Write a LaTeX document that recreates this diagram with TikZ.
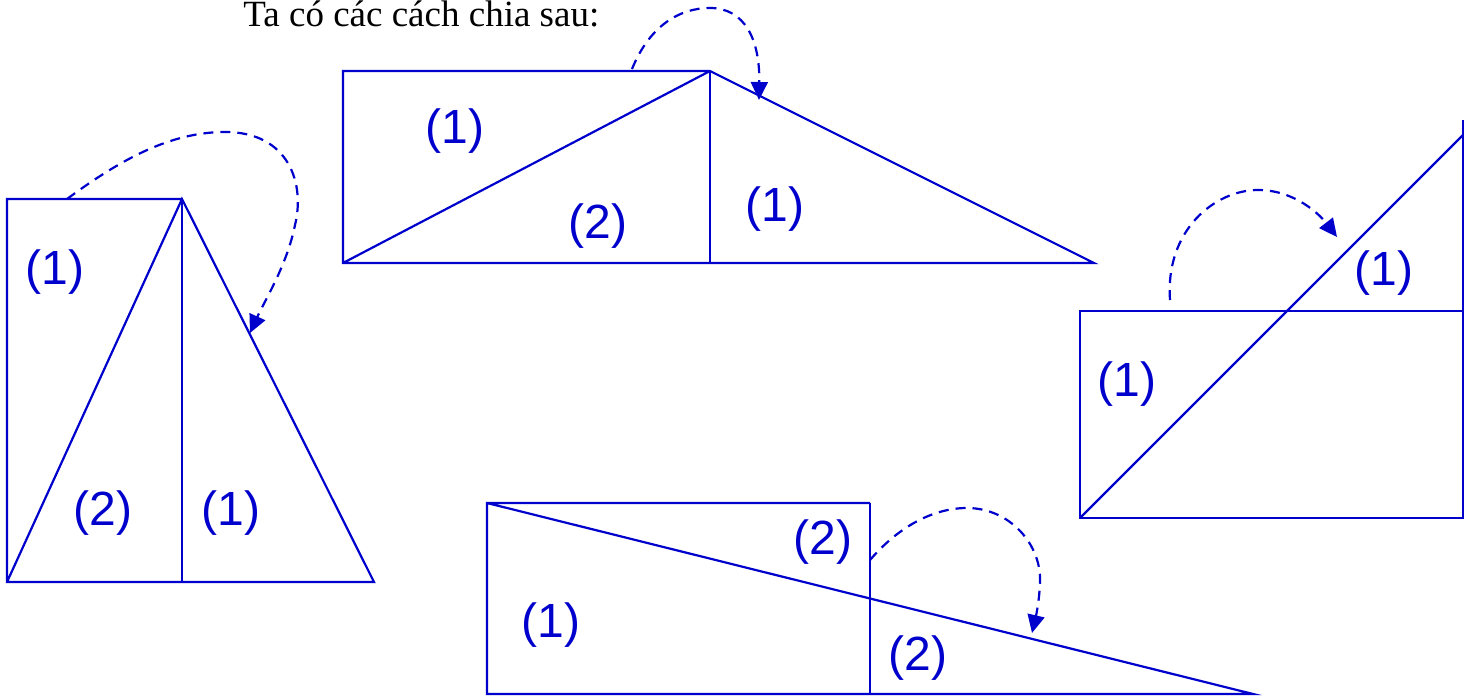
\documentclass[tikz,border=0pt]{standalone}
\usepackage{fontspec}
\setmainfont{Liberation Serif}
\newfontfamily\labfont{Liberation Sans}
\usetikzlibrary{arrows.meta}
\definecolor{figblue}{RGB}{0,0,205}
\begin{document}
\begin{tikzpicture}[x=0.5pt,y=-0.5pt,
  fig/.style={draw=figblue,line width=1.1pt,line join=miter},
  lab/.style={text=figblue,inner sep=0pt,font=\labfont\fontsize{24}{28}\selectfont},
  move/.style={draw=figblue,line width=1.1pt,dash pattern=on 5pt off 3.5pt,-{Triangle[length=9pt,width=8.5pt]}}]
\useasboundingbox (0,0) rectangle (1470,700);
\node[anchor=base west,inner sep=0pt,font=\fontsize{18.5}{22}\selectfont] (title) at (243,27) {Ta có các cách chia sau:};
% shape 1
\draw[fig] (182,199) -- (7,199) -- (7,582) -- (374,582) -- (182,199) -- (7,582);
\draw[fig] (182,199) -- (182,582);
\node[lab] (l1a) at (55,272) {(1)};
\node[lab] (l1b) at (103,513) {(2)};
\node[lab] (l1c) at (231,513) {(1)};
\draw[move] (67,199) .. controls (120,160) and (170,132) .. (225,132) .. controls (290,132) and (305,185) .. (295,225) .. controls (287,265) and (265,300) .. (250,333);
% shape 2
\draw[fig] (710,71) -- (343,71) -- (343,263) -- (1094,263) -- (710,71) -- (343,263);
\draw[fig] (710,71) -- (710,263);
\node[lab] (l2a) at (455,131) {(1)};
\node[lab] (l2b) at (598,226) {(2)};
\node[lab] (l2c) at (775,209) {(1)};
\draw[move] (632,69) .. controls (650,25) and (680,8) .. (710,8) .. controls (745,8) and (760,40) .. (759,100);
% shape 3
\draw[fig] (1080,311) rectangle (1463,518);
\draw[fig] (1463,311) -- (1463,120);
\draw[fig] (1080,518) -- (1463,135);
\node[lab] (l3a) at (1127,384) {(1)};
\node[lab] (l3b) at (1384,273) {(1)};
\draw[move] (1170,300) .. controls (1165,230) and (1215,190) .. (1258,190) .. controls (1295,190) and (1320,215) .. (1337,237);
% shape 4
\draw[fig] (870,503) -- (487,503) -- (487,694) -- (1253,694) -- (487,503);
\draw[fig] (870,503) -- (870,694);
\node[lab] (l4a) at (823,542) {(2)};
\node[lab] (l4b) at (551,625) {(1)};
\node[lab] (l4c) at (918,658) {(2)};
\draw[move] (870,560) .. controls (900,525) and (935,508) .. (967,508) .. controls (1010,508) and (1042,545) .. (1040,583) .. controls (1039,605) and (1035,620) .. (1032,633);
\end{tikzpicture}
\end{document}
